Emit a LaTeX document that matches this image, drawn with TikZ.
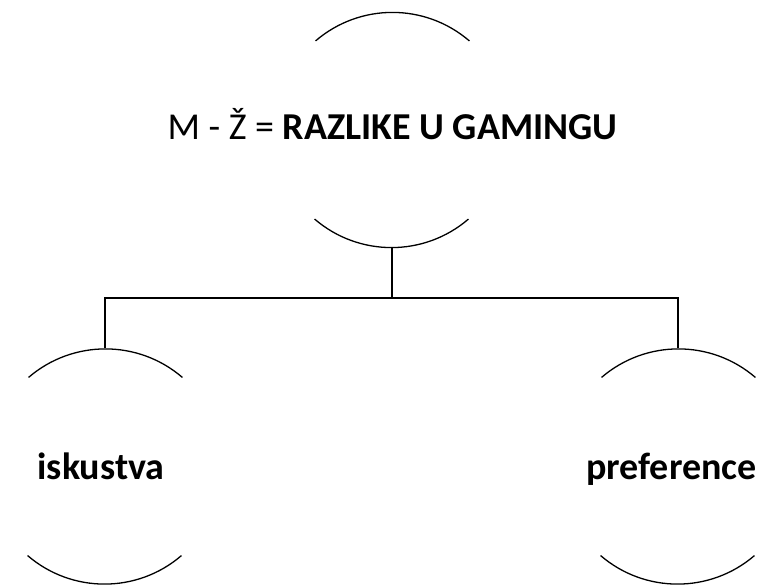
\documentclass[tikz,border=0pt]{standalone}
\usepackage{fontspec}
\setmainfont{Carlito}
\begin{document}
\begin{tikzpicture}[x=1pt,y=1pt,
  ring/.style={circle,inner sep=0pt,outer sep=0pt,minimum size=236pt},
  lbl/.style={anchor=base,inner sep=0pt,font=\fontsize{38}{42}\selectfont},
  ln/.style={line width=1.3pt,black}]
\useasboundingbox (0,0) rectangle (765,586);
\node[ring] (top) at (392,456) {};
\node[ring] (left) at (105,119.5) {};
\node[ring] (right) at (678,119.5) {};
\foreach \n in {top,left,right}{
  \draw[ln] (\n.49.3) arc[start angle=49.3,end angle=130.7,radius=118pt];
  \draw[ln] (\n.229.3) arc[start angle=229.3,end angle=310.7,radius=118pt];
}
\coordinate (j) at (392,288);
\draw[ln] (top.south) -- (j);
\draw[ln] (j) -| (left.north);
\draw[ln] (j) -| (right.north);
\node[lbl] (t0) at (392.5,446.5) {M - Ž = \textbf{RAZLIKE U GAMINGU}};
\node[lbl] (t1) at (101,106) {\textbf{iskustva}};
\node[lbl] (t2) at (671.5,106) {\textbf{preference}};
\end{tikzpicture}
\end{document}
